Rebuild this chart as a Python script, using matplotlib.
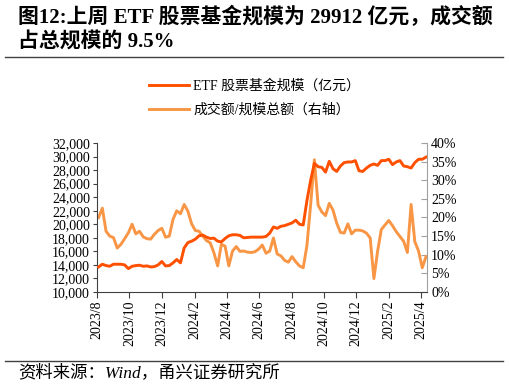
import numpy as np
import pandas as pd
import matplotlib
matplotlib.use("Agg")
import matplotlib.pyplot as plt
import matplotlib.dates as mdates
from matplotlib.ticker import FuncFormatter, PercentFormatter, MultipleLocator
from matplotlib.lines import Line2D

plt.rcParams['font.family'] = ['Liberation Serif', 'Noto Sans CJK SC', 'DejaVu Sans']

# weekly data, 2023-08-04 .. 2025-04-11
dates = pd.date_range("2023-08-04", "2025-04-11", freq="7D")

# ETF 股票基金规模（亿元）
etf_size = [
    13700, 14100, 13900, 13800, 14100, 14100, 14100, 14000, 13450, 13800,
    13900, 13950, 13800, 13850, 13700, 13750, 14000, 14500, 13850, 13900,
    14300, 14800, 14300, 16500, 17300, 17500, 17800, 18300, 18400, 18100,
    17900, 17950, 17500, 17400, 17900, 18300, 18450, 18450, 18350, 18000,
    18050, 18100, 18100, 18100, 18100, 18200, 18700, 19600, 19400, 19700,
    19800, 20000, 20200, 20600, 20000, 19900, 23500, 26500, 29000, 28500,
    28400, 27700, 29300, 28200, 27800, 28600, 29100, 29200, 29200, 29400,
    27900, 27800, 28300, 28700, 28900, 28700, 29400, 29400, 29600, 28800,
    29200, 29400, 28600, 28500, 28300, 29100, 29600, 29600, 29912,
]

# 成交额/规模总额（%）
turnover_ratio = [
    20.0, 22.5, 16.3, 15.0, 14.6, 11.8, 12.8, 14.3, 15.9, 18.2,
    15.6, 16.3, 14.8, 14.3, 14.2, 15.5, 16.5, 17.1, 14.7, 15.0,
    19.5, 21.8, 21.0, 23.5, 21.7, 18.3, 16.5, 16.3, 15.0, 13.8,
    13.2, 10.5, 7.0, 12.8, 12.3, 7.0, 11.0, 12.2, 10.9, 11.0,
    10.7, 10.6, 10.8, 11.5, 12.6, 10.4, 11.0, 14.5, 10.2, 9.7,
    8.5, 8.0, 9.5, 8.1, 7.0, 6.5, 12.5, 23.5, 35.5, 23.3,
    21.5, 20.5, 23.8, 22.0, 18.5, 16.0, 15.8, 18.3, 15.6, 16.6,
    16.6, 16.4, 15.8, 14.5, 3.6, 11.0, 16.8, 18.0, 19.2, 17.8,
    16.2, 14.9, 13.6, 10.6, 23.5, 13.5, 11.0, 6.5, 9.5,
]

c_size = "#FF5000"
c_ratio = "#F89646"

fig = plt.figure(figsize=(5.09, 3.87), dpi=100)
ax = fig.add_axes([0.1906, 0.2455, 0.6484, 0.385])
ax2 = ax.twinx()

ax.plot(dates, etf_size, color=c_size, lw=2.1, zorder=3)
ax2.plot(dates, np.array(turnover_ratio) / 100, color=c_ratio, lw=2.1, zorder=2)
ax.set_zorder(ax2.get_zorder() + 1)
ax.patch.set_visible(False)

ax.set_ylim(10000, 32000)
ax.yaxis.set_major_locator(MultipleLocator(2000))
ax.yaxis.set_major_formatter(FuncFormatter(lambda v, p: f"{int(v):,}"))
ax2.set_ylim(0, 0.4)
ax2.yaxis.set_major_locator(MultipleLocator(0.05))
ax2.yaxis.set_major_formatter(PercentFormatter(1.0, decimals=0))

ax.set_xlim(pd.Timestamp("2023-08-01"), pd.Timestamp("2025-04-13"))
ax.xaxis.set_major_locator(mdates.MonthLocator(bymonth=[2, 4, 6, 8, 10, 12]))
ax.xaxis.set_major_formatter(FuncFormatter(
    lambda v, p: f"{mdates.num2date(v).year}/{mdates.num2date(v).month}"))

for a in (ax, ax2):
    a.spines['top'].set_visible(False)
ax.spines['right'].set_visible(False)
ax2.spines['left'].set_visible(False)
ax2.spines['bottom'].set_visible(False)
ax.spines['left'].set_color("#404040")
ax.spines['bottom'].set_color("#404040")
ax2.spines['right'].set_color("#A0A0A0")

ax.tick_params(axis='y', labelsize=10, length=3, color="#404040", pad=2)
ax.tick_params(axis='x', labelsize=10, length=4, color="#404040", rotation=90, pad=2)
ax2.tick_params(axis='y', labelsize=10, length=4, direction='in', color="#A0A0A0", pad=3)

handles = [Line2D([], [], color=c_size, lw=2.1), Line2D([], [], color=c_ratio, lw=2.1)]
labels = ["ETF 股票基金规模（亿元）", "成交额/规模总额（右轴）"]
fig.legend(handles, labels, loc='center', bbox_to_anchor=(0.50, 0.747), frameon=False,
           handlelength=2.9, handletextpad=0.3, labelspacing=0.75,
           prop={'family': ['Liberation Serif', 'Noto Sans CJK SC'], 'size': 10})

fig.text(0.035, 1 - 17 / 387, "图12:上周 ETF 股票基金规模为 29912 亿元，成交额",
         fontsize=15, fontweight='bold', va='center', ha='left')
fig.text(0.035, 1 - 43 / 387, "占总规模的 9.5%",
         fontsize=15, fontweight='bold', va='center', ha='left')

fig.add_artist(Line2D([5 / 509, 503 / 509], [1 - 57 / 387] * 2, color="#404040", lw=1))
fig.add_artist(Line2D([5 / 509, 503 / 509], [1 - 361 / 387] * 2, color="#404040", lw=1))
fig.text(0.035, 1 - 373 / 387, "资料来源：Wind，甬兴证券研究所",
         fontsize=12.5, style='italic', va='center', ha='left')

fig.savefig("out.png", dpi=100)
